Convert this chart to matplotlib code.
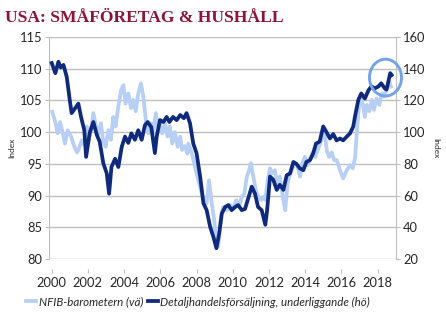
import matplotlib.pyplot as plt
from matplotlib.patches import Ellipse

# NFIB small business optimism (left axis)
nfib_t = [2000.03, 2000.2, 2000.33, 2000.46, 2000.6, 2000.73, 2000.88, 2001.07, 2001.25, 2001.4,
          2001.47, 2001.66, 2001.8, 2001.93, 2002.02, 2002.17, 2002.3, 2002.43, 2002.57, 2002.72,
          2002.85, 2002.98, 2003.13, 2003.27, 2003.4, 2003.53, 2003.68, 2003.83, 2003.96, 2004.08,
          2004.23, 2004.38, 2004.5, 2004.64, 2004.78, 2004.93, 2005.06, 2005.2, 2005.34, 2005.5,
          2005.6, 2005.75, 2005.86, 2005.98, 2006.1, 2006.26, 2006.4, 2006.53, 2006.66, 2006.8,
          2006.96, 2007.1, 2007.2, 2007.35, 2007.5, 2007.55, 2007.73, 2007.92, 2008.1, 2008.29,
          2008.43, 2008.56, 2008.69, 2008.84, 2008.98, 2009.1, 2009.2, 2009.35, 2009.48, 2009.67,
          2009.85, 2010.03, 2010.2, 2010.35, 2010.5, 2010.64, 2010.77, 2010.9, 2011.0, 2011.14,
          2011.27, 2011.42, 2011.57, 2011.7, 2011.8, 2011.93, 2012.06, 2012.19, 2012.33, 2012.48,
          2012.6, 2012.74, 2012.9, 2013.03, 2013.17, 2013.3, 2013.43, 2013.58, 2013.72, 2013.85,
          2013.99, 2014.14, 2014.27, 2014.4, 2014.55, 2014.7, 2014.83, 2014.96, 2015.07, 2015.2,
          2015.32, 2015.47, 2015.6, 2015.74, 2015.93, 2016.1, 2016.3, 2016.48, 2016.63, 2016.76,
          2016.85, 2016.94, 2017.03, 2017.18, 2017.3, 2017.4, 2017.55, 2017.68, 2017.8, 2017.95,
          2018.1, 2018.23, 2018.36, 2018.5, 2018.65, 2018.74]
nfib = [103.2, 101.6, 99.8, 101.6, 100.0, 98.2, 100.3, 99.3, 97.7, 96.8,
        97.2, 98.7, 98.0, 100.9, 98.4, 100.3, 103.0, 101.2, 99.6, 101.4,
        98.5, 97.7, 100.3, 98.8, 102.4, 100.9, 104.0, 106.6, 107.4, 104.5,
        106.1, 103.8, 105.1, 103.3, 106.1, 107.7, 105.6, 101.9, 99.8, 101.4,
        99.8, 103.0, 100.9, 101.4, 99.8, 101.4, 99.3, 100.9, 98.2, 100.0,
        97.7, 99.3, 97.2, 97.8, 96.6, 98.2, 96.8, 94.5, 92.4, 90.3,
        89.3, 88.8, 92.4, 88.8, 86.1, 82.5, 82.0, 86.7, 88.2, 87.7,
        88.5, 88.0, 89.3, 88.2, 89.8, 90.3, 92.9, 94.0, 95.1, 93.0,
        90.9, 89.8, 89.3, 89.8, 89.3, 92.4, 94.3, 93.5, 94.0, 91.4,
        93.0, 90.3, 87.7, 91.9, 93.5, 94.3, 95.1, 94.6, 93.0, 95.1,
        96.1, 94.8, 95.6, 96.7, 96.1, 97.2, 98.2, 99.3, 100.3, 97.0,
        96.1, 96.8, 95.6, 95.6, 94.0, 92.7, 94.0, 94.8, 94.3, 96.0,
        99.8, 103.0, 105.6, 104.5, 102.4, 104.3, 103.3, 105.1, 103.5, 105.3,
        104.3, 106.1, 105.6, 106.9, 108.0, 107.2]

# Underlying retail sales (right axis)
retail_t = [2000.0, 2000.2, 2000.37, 2000.5, 2000.65, 2000.83, 2001.0, 2001.1, 2001.3, 2001.47,
            2001.62, 2001.8, 2001.9, 2002.1, 2002.3, 2002.5, 2002.65, 2002.85, 2003.04, 2003.17,
            2003.3, 2003.5, 2003.68, 2003.87, 2004.05, 2004.23, 2004.4, 2004.6, 2004.78, 2004.97,
            2005.15, 2005.3, 2005.5, 2005.7, 2005.8, 2005.98, 2006.17, 2006.35, 2006.5, 2006.7,
            2006.9, 2007.1, 2007.3, 2007.45, 2007.64, 2007.82, 2008.0, 2008.2, 2008.38, 2008.56,
            2008.75, 2008.93, 2009.1, 2009.25, 2009.4, 2009.58, 2009.76, 2009.94, 2010.13, 2010.3,
            2010.5, 2010.68, 2010.86, 2011.05, 2011.23, 2011.4, 2011.6, 2011.8, 2011.9, 2012.06,
            2012.24, 2012.43, 2012.6, 2012.8, 2012.98, 2013.17, 2013.35, 2013.52, 2013.7, 2013.9,
            2014.07, 2014.27, 2014.45, 2014.6, 2014.8, 2015.0, 2015.2, 2015.37, 2015.55, 2015.74,
            2015.93, 2016.1, 2016.3, 2016.48, 2016.66, 2016.75, 2016.94, 2017.1, 2017.3, 2017.5,
            2017.66, 2017.85, 2018.05, 2018.2, 2018.4, 2018.5, 2018.6, 2018.7, 2018.78]
retail = [143.6, 137.2, 144.4, 140.8, 142.4, 134.8, 120.0, 112.0, 115.2, 118.0,
          109.6, 101.2, 84.4, 99.6, 106.4, 98.0, 94.0, 80.4, 74.0, 61.2,
          78.0, 83.2, 78.0, 90.8, 97.2, 93.2, 99.2, 95.2, 101.2, 95.2,
          104.4, 106.4, 103.2, 86.8, 97.2, 107.6, 106.4, 109.6, 106.4, 109.6,
          107.6, 110.8, 108.8, 112.0, 105.6, 92.8, 86.8, 72.0, 55.2, 50.8,
          40.4, 34.0, 26.8, 36.0, 48.8, 52.8, 54.0, 50.8, 52.8, 54.0,
          50.8, 51.6, 58.4, 65.6, 61.2, 52.8, 50.8, 41.6, 50.8, 72.0,
          70.0, 63.6, 66.8, 63.6, 72.8, 74.0, 81.2, 80.0, 77.2, 76.0,
          81.2, 82.4, 86.8, 92.8, 94.0, 103.6, 99.6, 96.0, 98.8, 94.8,
          96.0, 94.8, 97.2, 99.2, 103.6, 109.6, 120.4, 124.4, 121.2, 126.4,
          128.8, 127.6, 128.8, 130.8, 127.6, 126.8, 132.0, 137.2, 136.0]

years = list(range(2000, 2019, 2))
left_ticks = list(range(80, 116, 5))
right_ticks = list(range(20, 161, 20))

light = '#b7cff4'
dark = '#0f2a7c'
grid_c = '#bfbfbf'
txt_c = '#262626'

fig = plt.figure(figsize=(4.46, 3.27), dpi=100)
ax = fig.add_axes([49 / 446, 1 - 259 / 327, 347 / 446, 222 / 327])
ax2 = ax.twinx()

ax.plot(nfib_t, nfib, color=light, lw=2.7, solid_joinstyle='round', label='NFIB-barometern (vä)')
ax2.plot(retail_t, retail, color=dark, lw=2.7, solid_joinstyle='round',
         label='Detaljhandelsförsäljning, underliggande (hö)')

ax.set_xlim(1999.85, 2019.02)
ax.set_ylim(80, 115)
ax2.set_ylim(20, 160)
ax.set_yticks(left_ticks)
ax2.set_yticks(right_ticks)
ax.set_xticks(years)

ax.grid(axis='y', color=grid_c, lw=1)
ax.set_axisbelow(True)

for a in (ax, ax2):
    for s in ('top', 'bottom'):
        a.spines[s].set_visible(False)
    a.spines['left'].set_color(grid_c)
    a.spines['right'].set_color(grid_c)
ax.spines['bottom'].set_position(('outward', 7))
ax.spines['right'].set_visible(False)
ax2.spines['left'].set_visible(False)

ax.tick_params(axis='y', length=3, width=0.8, color=grid_c, pad=2, labelcolor=txt_c)
ax2.tick_params(axis='y', length=3, width=0.8, color=grid_c, pad=2, labelcolor=txt_c)
ax.tick_params(axis='x', length=3, width=0.8, color=grid_c, pad=3, labelcolor=txt_c)
for lbl in ax.get_xticklabels() + ax.get_yticklabels() + ax2.get_yticklabels():
    lbl.set_fontfamily('Lato')
    lbl.set_fontsize(9.3)

ax.set_ylabel('Index', fontsize=6, family='Lato', color=txt_c, labelpad=3)
ax2.set_ylabel('Index', fontsize=6, family='Lato', color=txt_c, rotation=270, labelpad=10)

# highlight the latest readings
ax2.add_patch(Ellipse((2018.44, 134.4), 1.77, 23.2, fill=False, edgecolor='#74a3ea',
                      lw=2.1, clip_on=False, zorder=5))

fig.text(5 / 446, 1 - 18 / 327, 'USA: SMÅFÖRETAG & HUSHÅLL', family='Liberation Serif',
         weight='bold', size=12.6, color='#8a1538', va='center', ha='left')

h1, l1 = ax.get_legend_handles_labels()
h2, l2 = ax2.get_legend_handles_labels()
fig.legend(h1 + h2, l1 + l2, loc='center', bbox_to_anchor=(198 / 446, 1 - 302 / 327), ncol=2,
           frameon=False, handlelength=0.9, handletextpad=0.2, columnspacing=0.4,
           prop=dict(family='Lato', style='italic', size=8.3), labelcolor=txt_c)

fig.savefig('out.png', dpi=100)
